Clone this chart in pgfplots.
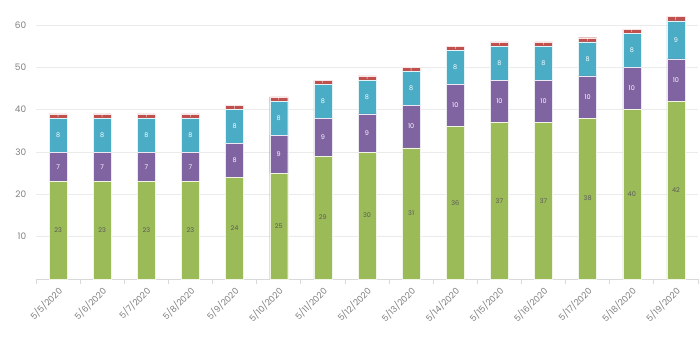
\documentclass[border=0pt]{standalone}
\usepackage{pgfplots}
\pgfplotsset{compat=1.18}
\usepackage{pgfplotstable}
\usepackage{fontspec}
\setmainfont{Poppins}
\definecolor{cgreen}{HTML}{9BBB59}
\definecolor{cpurple}{HTML}{8064A2}
\definecolor{cblue}{HTML}{4BACC6}
\definecolor{cred}{HTML}{C0504D}
\definecolor{tickgray}{HTML}{808080}
\definecolor{gridgray}{HTML}{EBEBEB}
\definecolor{axisgray}{HTML}{D9D9D9}
\pgfplotstableread{
x g p b r
0 23 7 8 1
1 23 7 8 1
2 23 7 8 1
3 23 7 8 1
4 24 8 8 1
5 25 9 8 1
6 29 9 8 1
7 30 9 8 1
8 31 10 8 1
9 36 10 8 1
10 37 10 8 1
11 37 10 8 1
12 38 10 8 1
13 40 10 8 1
14 42 10 9 1
}\datatable
\pgfplotstablecreatecol[expr={\thisrow{g}/2}]{gm}{\datatable}
\pgfplotstablecreatecol[expr={\thisrow{g}+\thisrow{p}/2}]{pm}{\datatable}
\pgfplotstablecreatecol[expr={\thisrow{g}+\thisrow{p}+\thisrow{b}/2}]{bm}{\datatable}
\pgfplotstablecreatecol[expr={\thisrow{g}+\thisrow{p}+\thisrow{b}+\thisrow{r}/2}]{rm}{\datatable}
\pgfplotsset{
  common/.style={
    at={(36bp,71bp)}, anchor=south west,
    scale only axis, width=662bp, height=254bp,
    xmin=-0.5, xmax=14.5, ymin=0, ymax=60,
    clip=false,
    /pgf/number format/assume math mode=true,
  },
  lbl/.style={draw=none, mark=none, nodes near coords, nodes near coords align=center,
    every node near coord/.append style={inner sep=0pt, font=\fontsize{6.5}{7}\selectfont, text=#1}},
}
\begin{document}
\begin{tikzpicture}
\useasboundingbox (0,0) rectangle (700bp,350bp);
\begin{axis}[
  common,
  ybar stacked, bar width=18bp,
  axis x line*=bottom, axis y line*=left,
  y axis line style={draw=none},
  x axis line style={draw=axisgray, line width=0.8bp},
  xtick={0,...,14},
  xticklabels={5/5/2020,5/6/2020,5/7/2020,5/8/2020,5/9/2020,5/10/2020,5/11/2020,5/12/2020,5/13/2020,5/14/2020,5/15/2020,5/16/2020,5/17/2020,5/18/2020,5/19/2020},
  major x tick style={draw=none},
  minor xtick={-0.5,0.5,...,14.5},
  minor x tick style={draw=axisgray, line width=0.8bp},
  minor tick length=5bp,
  tick align=outside,
  ytick={10,20,...,60},
  major y tick style={draw=none},
  ymajorgrids, grid style={draw=gridgray, line width=0.8bp},
  yticklabel style={font=\fontsize{9}{10}\selectfont, text=tickgray, xshift=-2bp},
  xticklabel style={font=\fontsize{8.8}{10}\selectfont, text=tickgray, rotate=45, anchor=east, yshift=-6bp, xshift=1bp},
]
\addplot+[fill=cgreen, draw=white!85!cgreen, line width=0.4bp] table[x=x, y=g] {\datatable};
\addplot+[fill=cpurple, draw=white!85!cpurple, line width=0.4bp] table[x=x, y=p] {\datatable};
\addplot+[fill=cblue, draw=white!85!cblue, line width=0.4bp] table[x=x, y=b] {\datatable};
\addplot+[fill=cred, draw=white!85!cred, line width=0.4bp] table[x=x, y=r] {\datatable};
\end{axis}
\begin{axis}[common, hide axis, point meta=explicit]
\addplot[lbl=black!65] table[x=x, y=gm, meta=g] {\datatable};
\addplot[lbl=white] table[x=x, y=pm, meta=p] {\datatable};
\addplot[lbl=white] table[x=x, y=bm, meta=b] {\datatable};
\addplot[lbl=white, every node near coord/.append style={font=\fontsize{4.5}{4.5}\selectfont}] table[x=x, y=rm, meta=r] {\datatable};
\end{axis}
\end{tikzpicture}
\end{document}
